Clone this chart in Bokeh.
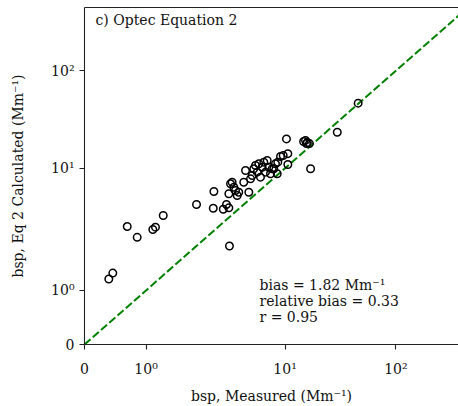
import numpy as np
from bokeh.plotting import figure
from bokeh.models import (ColumnDataSource, CustomJSTransform, FixedTicker, Range1d,
                          CustomJSTickFormatter, Label, LinearAxis)
from bokeh.transform import transform
from bokeh.embed import file_html
from bokeh.resources import INLINE

# ---- data ----
measured = [0.395, 0.46, 0.694, 0.856, 1.11, 1.153, 1.279, 1.82, 2.25, 2.28, 2.77, 2.96,
            3.11, 3.11, 3.15, 3.70, 3.82, 3.22, 3.33, 3.45, 3.57, 4.24, 4.40, 4.71, 4.88,
            5.05, 5.22, 5.41, 5.61, 5.80, 6.00, 6.22, 6.43, 6.66, 6.90, 7.13, 7.39, 7.66,
            8.20, 8.50, 8.60, 9.10, 9.62, 10.6, 10.6, 10.3, 7.92, 14.7, 15.3, 15.9, 16.6,
            15.6, 17.0, 29.6, 45.7]
calculated = [1.21, 1.32, 2.52, 1.98, 2.35, 2.48, 3.27, 4.24, 3.88, 5.77, 3.79, 4.24,
              3.92, 5.46, 1.82, 5.24, 5.67, 6.92, 7.18, 6.38, 5.90, 7.18, 9.47, 5.67, 7.78,
              8.41, 9.86, 10.66, 9.10, 11.10, 8.09, 10.24, 11.53, 9.10, 12.0, 10.24, 8.76, 9.86,
              11.10, 8.76, 11.53, 13.2, 13.5, 14.1, 10.9, 20.0, 9.86, 18.8, 19.3, 18.4, 17.9,
              17.9, 9.86, 23.4, 46.5]
one_to_one = [0.0, 10000.0]
tick_values = [0, 1, 10, 100]
tick_labels = ["0", "10\u2070", "10\u00b9", "10\u00b2"]
stats_lines = ["bias = 1.82 Mm\u207b\u00b9", "relative bias = 0.33", "r = 0.95"]
panel_title = "c) Optec Equation 2"

# symlog (linthresh=2, linscale=1, base 10) as in matplotlib
LINTHRESH = 2.0
LINSCALE_ADJ = 1.0 / (1.0 - 1.0 / 10.0)


def symlog(v):
    v = np.asarray(v, dtype=float)
    a = np.abs(v)
    out = np.where(a <= LINTHRESH, v * LINSCALE_ADJ,
                   np.sign(v) * LINTHRESH * (LINSCALE_ADJ + np.log10(np.maximum(a, 1e-12) / LINTHRESH)))
    return out


symlog_js = CustomJSTransform(args=dict(L=LINTHRESH, A=LINSCALE_ADJ), v_func="""
    const out = new Float64Array(xs.length);
    for (let i = 0; i < xs.length; i++) {
        const x = xs[i], a = Math.abs(x);
        out[i] = a <= L ? x * A : Math.sign(x) * L * (A + Math.log10(a / L));
    }
    return out;
""")

FONT = "DejaVu Serif"

p = figure(width=458, height=406, output_backend="svg", toolbar_location=None,
           x_range=Range1d(0, 6.751), y_range=Range1d(0, 6.92),
           min_border_left=84, min_border_right=0, min_border_top=7, min_border_bottom=62)
p.grid.visible = False
p.outline_line_color = None
p.background_fill_color = "white"
p.border_fill_color = "white"

tick_pos = [float(t) for t in symlog(tick_values)]
fmt = CustomJSTickFormatter(args=dict(pos=tick_pos, labels=tick_labels), code="""
    for (let i = 0; i < pos.length; i++) { if (Math.abs(tick - pos[i]) < 1e-6) return labels[i]; }
    return "";
""")

for ax in (p.xaxis[0], p.yaxis[0]):
    ax.ticker = FixedTicker(ticks=tick_pos)
    ax.formatter = fmt
    ax.minor_tick_line_color = None
    ax.major_tick_out = 5
    ax.major_tick_in = 0
    ax.major_tick_line_width = 1.1
    ax.axis_line_width = 1.1
    ax.axis_line_color = "#222222"
    ax.major_tick_line_color = "#222222"
    ax.major_label_text_font = FONT
    ax.major_label_text_font_size = "14px"
    ax.major_label_text_color = "#111111"
    ax.axis_label_text_font = FONT
    ax.axis_label_text_font_size = "14px"
    ax.axis_label_text_font_style = "normal"
    ax.axis_label_text_color = "#111111"

p.xaxis.major_label_standoff = 11
p.yaxis.major_label_standoff = 5
p.xaxis.axis_label = "bsp, Measured (Mm\u207b\u00b9)"
p.yaxis.axis_label = "bsp, Eq 2 Calculated (Mm\u207b\u00b9)"
p.xaxis.axis_label_standoff = 8
p.yaxis.axis_label_standoff = 22

top_axis = LinearAxis(ticker=FixedTicker(ticks=[]), major_label_text_font_size="0px",
                      major_tick_line_color=None, minor_tick_line_color=None,
                      axis_line_color="#222222", axis_line_width=1.1)
p.add_layout(top_axis, "above")

line_src = ColumnDataSource(dict(x=one_to_one, y=one_to_one))
p.line(x=transform("x", symlog_js), y=transform("y", symlog_js), source=line_src,
       line_color="#008000", line_width=2, line_dash="8 3")

pts = ColumnDataSource(dict(x=measured, y=calculated))
p.scatter(x=transform("x", symlog_js), y=transform("y", symlog_js), source=pts,
          marker="circle", size=7.5, fill_color=None, line_color="black", line_width=1.5)

p.add_layout(Label(x=0.199, y=6.82, text=panel_title, text_font=FONT, text_font_size="14px",
                   text_baseline="top", text_color="#111111"))
for i, s in enumerate(stats_lines):
    p.add_layout(Label(x=3.159, y=(344 - 276 - 16 * i) / 48.7, text=s, text_font=FONT,
                       text_font_size="14px", text_baseline="top", text_color="#111111"))

open("out.html", "w").write(file_html(p, INLINE))
